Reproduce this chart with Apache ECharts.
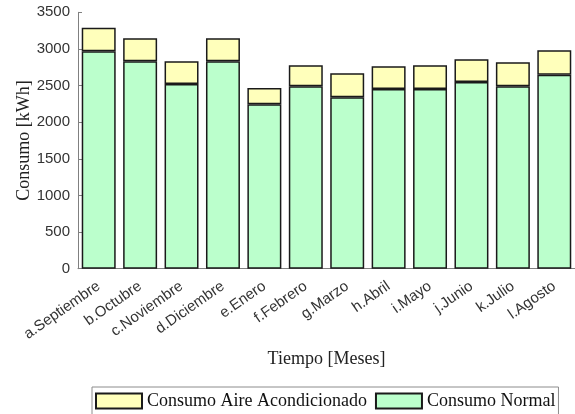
<!DOCTYPE html>
<html>
<head>
<meta charset="utf-8">
<script src="https://cdn.jsdelivr.net/npm/echarts@6/dist/echarts.min.js"></script>
<style>html,body{margin:0;padding:0;background:#fff;}#c{width:575px;height:414px;}</style>
</head>
<body>
<div id="c"></div>
<script>
const categories = ['a.Septiembre','b.Octubre','c.Noviembre','d.Diciembre','e.Enero','f.Febrero','g.Marzo','h.Abril','i.Mayo','j.Junio','k.Julio','l.Agosto'];
const consumoNormal = [2967, 2831, 2521, 2831, 2244, 2490, 2339, 2453, 2453, 2548, 2490, 2648];
const consumoAire = [323, 314, 310, 314, 222, 286, 328, 309, 323, 310, 327, 333];
const yTicks = [0, 500, 1000, 1500, 2000, 2500, 3000, 3500];

const serif = '"Liberation Serif", "Times New Roman", serif';
const sans = '"Liberation Sans", Arial, sans-serif';

const chart = echarts.init(document.getElementById('c'), null, {renderer: 'canvas'});
chart.setOption({
  animation: false,
  backgroundColor: '#fff',
  grid: {left: 78, right: 0, top: 12.3, bottom: 145.3, containLabel: false},
  legend: {
    data: ['Consumo Aire Acondicionado', 'Consumo Normal'],
    left: 92, top: 387,
    padding: [5, 3, 6, 3],
    itemWidth: 46, itemHeight: 15, itemGap: 8,
    borderColor: '#8c8c8c', borderWidth: 1,
    textStyle: {fontFamily: serif, fontSize: 18, color: '#111'},
    icon: 'rect'
  },
  xAxis: {
    type: 'category',
    data: categories,
    name: 'Tiempo [Meses]',
    nameLocation: 'middle',
    nameGap: 82,
    nameMoveOverlap: false,
    nameTextStyle: {fontFamily: serif, fontSize: 18, color: '#222'},
    axisLine: {lineStyle: {color: '#808080', width: 1}},
    axisTick: {show: false},
    axisLabel: {rotate: 35, fontFamily: sans, fontSize: 15, color: '#333', margin: 16, interval: 0}
  },
  yAxis: {
    type: 'value',
    min: yTicks[0], max: yTicks[yTicks.length - 1], interval: 500,
    name: 'Consumo [kWh]',
    nameLocation: 'middle',
    nameGap: 45,
    nameMoveOverlap: false,
    nameRotate: 90,
    nameTextStyle: {fontFamily: serif, fontSize: 18, color: '#222'},
    axisLine: {show: true, lineStyle: {color: '#808080', width: 1}},
    axisTick: {show: true, inside: true, length: 4, lineStyle: {color: '#808080'}},
    splitLine: {show: false},
    axisLabel: {fontFamily: sans, fontSize: 15, color: '#333', margin: 8, formatter: v => String(v)}
  },
  series: [
    {
      name: 'Consumo Normal', type: 'bar', stack: 'total', data: consumoNormal,
      barCategoryGap: '18%',
      itemStyle: {color: '#bbffcc', borderColor: '#1a1a1a', borderWidth: 1.5}
    },
    {
      name: 'Consumo Aire Acondicionado', type: 'bar', stack: 'total', data: consumoAire,
      barCategoryGap: '18%',
      itemStyle: {color: '#ffffbb', borderColor: '#1a1a1a', borderWidth: 1.5}
    }
  ]
});
</script>
</body>
</html>
